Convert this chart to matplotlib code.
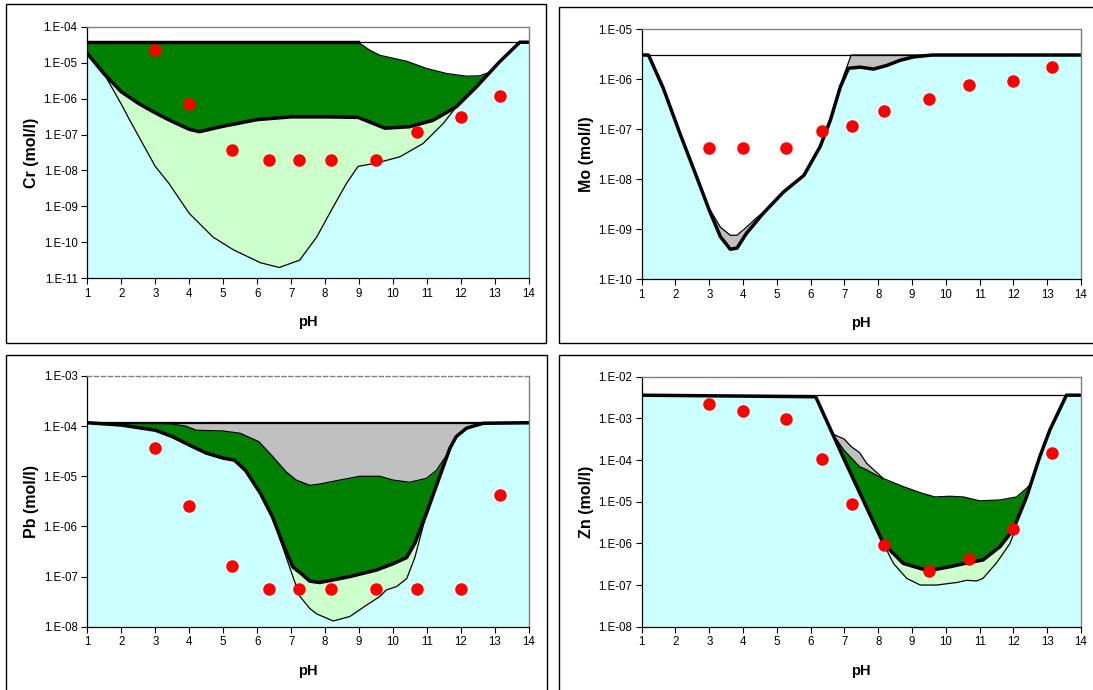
import numpy as np
import matplotlib.pyplot as plt
from matplotlib.patches import Rectangle
from matplotlib.ticker import FixedLocator, NullLocator

plt.rcParams['font.family'] = ['Liberation Sans', 'DejaVu Sans']

# Colours (Excel palette)
CYAN = '#CCFFFF'
LIGHT_GREEN = '#CCFFCC'
DARK_GREEN = '#008000'
GRAY = '#C0C0C0'
RED = '#FF0000'

# Measured leaching data (same pH steps for all metals)
dot_ph = [3.0, 4.0, 5.27, 6.35, 7.22, 8.17, 9.5, 10.7, 12.0, 13.15]
cr_dots = [2.25e-5, 6.9e-7, 3.7e-8, 1.9e-8, 1.9e-8, 1.9e-8, 1.9e-8, 1.15e-7, 3.1e-7, 1.15e-6]
mo_dots = [4.2e-8, 4.2e-8, 4.2e-8, 9.4e-8, 1.17e-7, 2.3e-7, 4.0e-7, 7.6e-7, 9.3e-7, 1.8e-6]
pb_dots = [3.7e-5, 2.6e-6, 1.6e-7, 5.6e-8, 5.6e-8, 5.6e-8, 5.6e-8, 5.6e-8, 5.6e-8, 4.2e-6]
zn_dots = [2.2e-3, 1.5e-3, 9.6e-4, 1.07e-4, 8.9e-6, 9.1e-7, 2.2e-7, 4.2e-7, 2.2e-6, 1.45e-4]

# ---- Cr ----
cr_total = 3.7e-5
cr_b_ph = [1, 1.5, 2, 2.5, 3, 3.5, 4, 4.3, 5, 6, 7, 8, 8.97, 9.76, 10.49, 11.18, 11.86, 12.45, 13.14, 13.73, 14]
cr_b = [1.8e-5, 4.8e-6, 1.55e-6, 7.4e-7, 4.0e-7, 2.3e-7, 1.4e-7, 1.2e-7, 1.7e-7, 2.6e-7, 3.1e-7, 3.1e-7,
        3.0e-7, 1.5e-7, 1.65e-7, 2.5e-7, 5.9e-7, 2.1e-6, 1.07e-5, 3.7e-5, 3.7e-5]
cr_a_ph = [1.5, 2, 2.25, 3, 3.4, 4, 4.7, 5.3, 6.1, 6.65, 7.25, 7.75, 8.24, 8.63, 8.97, 9.5, 10.2, 10.88, 11.47, 11.86]
cr_a = [4.8e-6, 7.0e-7, 2.5e-7, 1.3e-8, 4.4e-9, 6.4e-10, 1.4e-10, 6.2e-11, 2.7e-11, 2.0e-11, 3.2e-11, 1.4e-10,
        9.8e-10, 4.4e-9, 1.3e-8, 1.6e-8, 2.4e-8, 5.6e-8, 2.0e-7, 5.9e-7]
cr_c_ph = [1, 8.97, 9.32, 9.61, 10.39, 10.98, 11.57, 12.16, 12.55, 12.84]
cr_c = [3.7e-5, 3.7e-5, 2.2e-5, 1.6e-5, 1.1e-5, 6.9e-6, 5.0e-6, 4.2e-6, 4.3e-6, 5.4e-6]
cr_top_ph = [1, 8.97]

# ---- Mo ----
mo_total = 3.06e-6
mo_b_ph = [1, 1.2, 1.64, 2.13, 2.63, 3, 3.33, 3.62, 3.82, 4.1, 4.6, 5.2, 5.8, 6.28, 6.58, 6.88, 7.12,
           7.46, 7.86, 8.26, 8.65, 9.04, 9.6, 14]
mo_b = [3.06e-6, 3.06e-6, 6.6e-7, 8.3e-8, 1.1e-8, 2.4e-9, 7.1e-10, 4.0e-10, 4.2e-10, 8.3e-10, 2.1e-9, 5.6e-9,
        1.2e-8, 4.5e-8, 1.5e-7, 7.1e-7, 1.66e-6, 1.75e-6, 1.6e-6, 1.9e-6, 2.4e-6, 2.8e-6, 3.06e-6, 3.06e-6]
mo_u_ph = [1, 1.2, 1.64, 2.13, 2.63, 3, 3.33, 3.62, 3.82, 4.1, 4.4, 4.6, 5.2, 5.8, 6.28, 6.58, 6.98, 7.2, 14]
mo_u = [3.06e-6, 3.06e-6, 6.6e-7, 8.3e-8, 1.1e-8, 2.6e-9, 1.1e-9, 7.6e-10, 7.6e-10, 1.1e-9, 1.7e-9, 2.2e-9,
        5.6e-9, 1.2e-8, 4.5e-8, 1.6e-7, 1.2e-6, 3.06e-6, 3.06e-6]

# ---- Pb ----
pb_total = 1.17e-4
pb_b_ph = [1, 2, 3, 3.5, 4, 4.5, 5, 5.33, 5.66, 6.1, 6.45, 6.75, 7.05, 7.26, 7.55, 7.84, 8.73, 9.51, 10.0,
           10.4, 10.64, 10.98, 11.37, 11.67, 11.86, 12.16, 12.65, 14]
pb_b = [1.17e-4, 1.05e-4, 8.3e-5, 6.2e-5, 4.2e-5, 2.9e-5, 2.3e-5, 2.1e-5, 1.3e-5, 4.5e-6, 1.55e-6, 4.6e-7,
        1.55e-7, 1.2e-7, 8.1e-8, 7.6e-8, 1.0e-7, 1.35e-7, 1.8e-7, 2.4e-7, 4.6e-7, 1.8e-6, 9.8e-6, 3.6e-5,
        6.2e-5, 9.1e-5, 1.14e-4, 1.17e-4]
pb_a_ph = [6.45, 6.75, 7.05, 7.26, 7.55, 7.75, 8.24, 8.73, 9.22, 9.61, 9.8, 10.1, 10.4, 10.64, 10.98]
pb_a = [1.55e-6, 3.9e-7, 1.0e-7, 4.0e-8, 2.3e-8, 1.8e-8, 1.3e-8, 1.6e-8, 2.7e-8, 4.0e-8, 5.4e-8, 6.3e-8,
        9.1e-8, 2.4e-7, 1.8e-6]
pb_c_ph = [1, 2.5, 3.5, 3.9, 4.2, 5, 5.5, 6.05, 6.45, 6.85, 7.15, 7.55, 7.84, 8.43, 9.02, 9.61, 10, 10.49,
           10.98, 11.27, 11.57, 11.67]
pb_c = [1.17e-4, 1.15e-4, 1.1e-4, 1.0e-4, 8.3e-5, 8.0e-5, 7.2e-5, 4.9e-5, 2.5e-5, 1.23e-5, 8.4e-6, 6.6e-6,
        7.0e-6, 8.4e-6, 1.0e-5, 1.0e-5, 8.4e-6, 7.6e-6, 9.1e-6, 1.3e-5, 2.6e-5, 3.6e-5]

# ---- Zn ----
zn_total = 3.6e-3
zn_b_ph = [1, 6.15, 7.0, 8.15, 8.74, 9.48, 10.12, 10.71, 11.1, 11.6, 11.99, 12.39, 12.78, 13.08, 13.57, 14]
zn_b = [3.6e-3, 3.3e-3, 1.0e-4, 1.0e-6, 3.3e-7, 2.2e-7, 2.75e-7, 3.5e-7, 4.0e-7, 8.3e-7, 2.1e-6, 1.3e-5,
        1.2e-4, 5.3e-4, 3.6e-3, 3.6e-3]
zn_a_ph = [8.15, 8.45, 8.84, 9.24, 9.73, 10.32, 10.62, 10.91, 11.1, 11.5, 11.9, 12.09]
zn_a = [1.0e-6, 3.3e-7, 1.45e-7, 1.0e-7, 1.0e-7, 1.15e-7, 1.3e-7, 1.25e-7, 1.45e-7, 3.4e-7, 1.0e-6, 2.6e-6]
zn_d_ph = [6.65, 6.99, 7.2, 7.45, 7.66, 8.15, 8.74, 9.29, 9.68, 10.12, 10.52, 11.0, 11.6, 12.09, 12.39, 12.5]
zn_d = [4.2e-4, 3.2e-4, 2.1e-4, 1.5e-4, 8.3e-5, 3.6e-5, 2.3e-5, 1.6e-5, 1.3e-5, 1.35e-5, 1.3e-5, 1.05e-5,
        1.1e-5, 1.3e-5, 2.1e-5, 2.6e-5]
zn_c_ph = [6.65, 6.99, 7.45, 7.66, 8.15]
zn_c = [4.2e-4, 1.7e-4, 6.9e-5, 5.8e-5, 3.5e-5]


def splice(base_x, base_y, seg_x, seg_y):
    """Replace the part of a base curve that a segment covers."""
    bx, by = np.asarray(base_x, float), np.asarray(base_y, float)
    left, right = bx < seg_x[0], bx > seg_x[-1]
    return (np.concatenate([bx[left], seg_x, bx[right]]),
            np.concatenate([by[left], seg_y, by[right]]))


W, H = 1093, 690
fig = plt.figure(figsize=(W / 100, H / 100), dpi=100)


def add_axes_px(left, top, right, bottom):
    return fig.add_axes([left / W, 1 - bottom / H, (right - left) / W, (bottom - top) / H])


def frame_px(left, top, right, bottom):
    fig.add_artist(Rectangle((left / W, 1 - bottom / H), (right - left) / W, (bottom - top) / H,
                             transform=fig.transFigure, fill=False, ec='black', lw=1.0))


def draw_panel(ax, ylo, yhi, layers, thin, thick, dots, ylabel, dashed_top=False, total_line=None):
    ax.set_yscale('log')
    ax.set_xlim(1, 14)
    ax.set_ylim(ylo, yhi)
    ax.set_facecolor('white')
    for x, y, c in layers:
        ax.fill_between(x, ylo, y, color=c, lw=0)
    for x, y in thin:
        ax.plot(x, y, color='black', lw=0.9)
    if total_line is not None:
        ax.plot(*total_line, color='black', lw=1.6)
    for x, y in thick:
        ax.plot(x, y, color='black', lw=2.5, solid_joinstyle='round')
    ax.plot(dot_ph, dots, 'o', color=RED, ms=9, mec='none', zorder=5)

    decades = np.arange(round(np.log10(ylo)), round(np.log10(yhi)) + 1)
    ax.yaxis.set_major_locator(FixedLocator(10.0 ** decades))
    ax.yaxis.set_minor_locator(NullLocator())
    ax.set_yticklabels([f'1.E{int(d):+03d}' for d in decades])
    ax.set_xticks(range(1, 15))
    ax.tick_params(direction='out', length=4, width=0.8, labelsize=8.3, pad=3, colors='black')
    ax.set_xlabel('pH', fontsize=10.5, fontweight='bold', labelpad=11)
    ax.set_ylabel(ylabel, fontsize=11.5, fontweight='bold', labelpad=3)
    for s in ['left', 'bottom']:
        ax.spines[s].set_color('black')
        ax.spines[s].set_linewidth(0.9)
    for s in ['top', 'right']:
        ax.spines[s].set_color('#808080')
        ax.spines[s].set_linewidth(1.0)
    if dashed_top:
        ax.spines['top'].set_linestyle((0, (3, 2)))


# panel frames
frame_px(6, 4, 546, 343)
frame_px(559, 7, 1100, 343)
frame_px(6, 355, 547, 700)
frame_px(559, 355, 1100, 700)

# Cr
ax = add_axes_px(87.3, 26.7, 529, 278.3)
cr_ax, cr_ay = splice(cr_b_ph, cr_b, cr_a_ph, cr_a)
cr_cx, cr_cy = splice(cr_b_ph, cr_b, cr_c_ph, cr_c)
draw_panel(ax, 1e-11, 1e-4,
           layers=[(cr_cx, cr_cy, DARK_GREEN), (cr_b_ph, cr_b, LIGHT_GREEN), (cr_ax, cr_ay, CYAN)],
           thin=[([1, 14], [cr_total, cr_total]), (cr_a_ph, cr_a), (cr_c_ph[1:], cr_c[1:])],
           thick=[(cr_b_ph, cr_b), (cr_top_ph, [cr_total, cr_total])],
           dots=cr_dots, ylabel='Cr (mol/l)')

# Mo
ax = add_axes_px(641.7, 29.3, 1081, 279.3)
draw_panel(ax, 1e-10, 1e-5,
           layers=[(mo_u_ph, mo_u, GRAY), (mo_b_ph, mo_b, CYAN)],
           thin=[([1, 14], [mo_total, mo_total]), (mo_u_ph, mo_u)],
           thick=[(mo_b_ph, mo_b)],
           dots=mo_dots, ylabel='Mo (mol/l)')

# Pb
ax = add_axes_px(87.3, 376, 529, 626.7)
pb_ax, pb_ay = splice(pb_b_ph, pb_b, pb_a_ph, pb_a)
pb_cx, pb_cy = splice(pb_b_ph, pb_b, pb_c_ph, pb_c)
draw_panel(ax, 1e-8, 1e-3,
           layers=[([1, 14], [pb_total, pb_total], GRAY), (pb_cx, pb_cy, DARK_GREEN),
                   (pb_b_ph, pb_b, LIGHT_GREEN), (pb_ax, pb_ay, CYAN)],
           thin=[(pb_a_ph, pb_a), (pb_c_ph, pb_c)],
           thick=[(pb_b_ph, pb_b)],
           dots=pb_dots, ylabel='Pb (mol/l)', dashed_top=True,
           total_line=([1, 14], [pb_total, pb_total]))

# Zn
ax = add_axes_px(641.7, 376.7, 1081, 626.7)
zn_ax, zn_ay = splice(zn_b_ph, zn_b, zn_a_ph, zn_a)
zn_dx, zn_dy = splice(zn_b_ph, zn_b, zn_d_ph, zn_d)
zn_cx, zn_cy = splice(zn_dx, zn_dy, zn_c_ph, zn_c)
draw_panel(ax, 1e-8, 1e-2,
           layers=[(zn_dx, zn_dy, GRAY), (zn_cx, zn_cy, DARK_GREEN),
                   (zn_b_ph, zn_b, LIGHT_GREEN), (zn_ax, zn_ay, CYAN)],
           thin=[([1, 14], [zn_total, zn_total]), (zn_a_ph, zn_a), (zn_c_ph, zn_c), (zn_d_ph, zn_d)],
           thick=[(zn_b_ph, zn_b)],
           dots=zn_dots, ylabel='Zn (mol/l)')

fig.savefig('out.png', dpi=100)
